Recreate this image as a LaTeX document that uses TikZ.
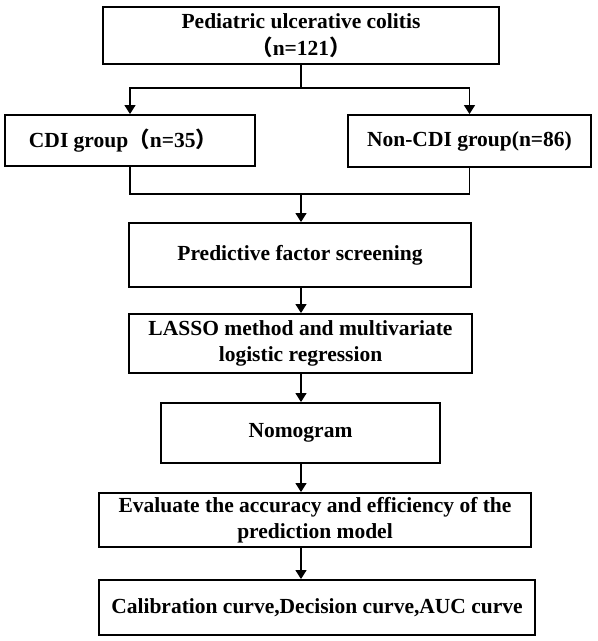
\documentclass[tikz,border=0pt]{standalone}
\usepackage{fontspec}
\setmainfont{Liberation Serif}
\newfontfamily\cjk{Noto Sans CJK SC}
\usetikzlibrary{arrows.meta}
\tikzset{
  box/.style={draw=black, line width=1.9pt, inner sep=0pt, align=center,
    font=\fontsize{21.5}{25.5}\selectfont\bfseries, text=black},
  arr/.style={line width=1.3pt, -{Triangle[width=11pt,length=9pt]}},
  conn/.style={line width=1.3pt}
}
\begin{document}
\begin{tikzpicture}[x=1pt,y=-1pt]
\fill[white] (0,0) rectangle (598,641);
\useasboundingbox (0,0) rectangle (598,641);
\node[box, minimum width=396pt, minimum height=57pt] (top) at (301,35.5)
  {Pediatric ulcerative colitis\\[2pt]{\cjk （}n=121{\cjk ）}};
\node[box, minimum width=250pt, minimum height=51pt] (cdi) at (130,140.5)
  {CDI group{\cjk （}n=35{\cjk ）}\hspace*{14pt}};
\node[box, minimum width=243pt, minimum height=52pt] (noncdi) at (469.5,141)
  {Non-CDI group(n=86)};
\node[box, minimum width=342pt, minimum height=64pt] (pred) at (300,255)
  {Predictive factor screening};
\node[box, minimum width=343pt, minimum height=59pt] (lasso) at (300.5,343.5)
  {LASSO method and multivariate\\logistic regression};
\node[box, minimum width=279pt, minimum height=60pt] (nomo) at (300.5,433)
  {Nomogram};
\node[box, minimum width=432pt, minimum height=54pt] (eval) at (315,520)
  {Evaluate the accuracy and efficiency of the\\prediction model};
\node[box, minimum width=436pt, minimum height=55pt] (calib) at (317,607.5)
  {Calibration curve,Decision curve,AUC curve};
\coordinate (jt) at (301,88);
\coordinate (jb) at (301,194);
\draw[conn] (top.south) -- (jt);
\draw[arr] (jt) -| (cdi.north);
\draw[arr] (jt) -| (noncdi.north);
\draw[conn] (cdi.south) -- (cdi.south |- jb) -- (noncdi.south |- jb) -- (noncdi.south);
\draw[arr] (jb) -- (jb |- pred.north);
\draw[arr] (jb |- pred.south) -- (jb |- lasso.north);
\draw[arr] (jb |- lasso.south) -- (jb |- nomo.north);
\draw[arr] (jb |- nomo.south) -- (jb |- eval.north);
\draw[arr] (jb |- eval.south) -- (jb |- calib.north);
\end{tikzpicture}
\end{document}
